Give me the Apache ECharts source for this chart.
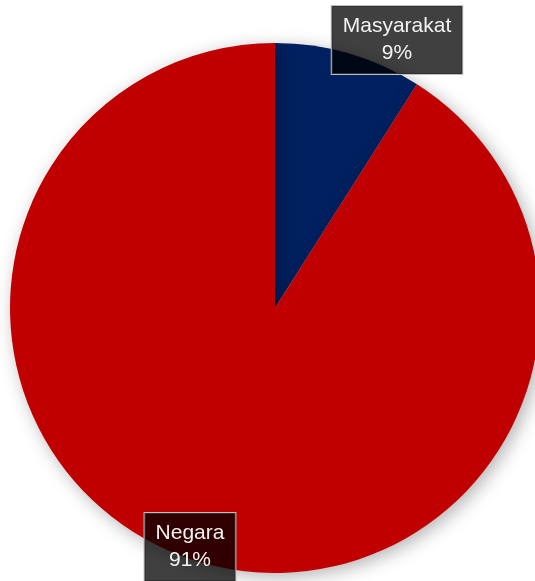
<!DOCTYPE html>
<html>
<head>
<meta charset="utf-8">
<script src="https://cdn.jsdelivr.net/npm/echarts@6/dist/echarts.min.js"></script>
<style>
  html, body { margin: 0; padding: 0; background: #fff; }
  #chart { width: 535px; height: 581px; }
</style>
</head>
<body>
<div id="chart"></div>
<script>
const categories = ['Masyarakat', 'Negara']
const values = [9, 91]
const colors = ['#002060', '#C00000']
// label box centres
const labelSpots = [[397, 40], [190, 547]]

const chart = echarts.init(document.getElementById('chart'), null, { renderer: 'canvas' })

chart.setOption({
  animation: false,
  series: [{
    type: 'pie',
    center: [275, 308],
    radius: 265,
    startAngle: 90,
    clockwise: true,
    data: categories.map((name, i) => ({
      name,
      value: values[i],
      itemStyle: { color: colors[i] },
    })),
    itemStyle: {
      shadowBlur: 18,
      shadowColor: 'rgba(0,0,0,0.3)',
      shadowOffsetX: 4,
      shadowOffsetY: 4,
    },
    label: {
      show: true,
      formatter: '{b}\n{d}%',
      color: '#f2f2f2',
      fontFamily: 'Liberation Sans',
      fontSize: 21,
      lineHeight: 27,
      align: 'center',
      backgroundColor: 'rgba(0,0,0,0.75)',
      borderColor: '#bfbfbf',
      borderWidth: 1,
      padding: [7, 11, 7, 11],
    },
    labelLine: { show: false },
    labelLayout: (params) => ({
      x: labelSpots[params.dataIndex][0],
      y: labelSpots[params.dataIndex][1],
      align: 'center',
      verticalAlign: 'middle',
    }),
    emphasis: { disabled: true },
  }],
})
</script>
</body>
</html>
